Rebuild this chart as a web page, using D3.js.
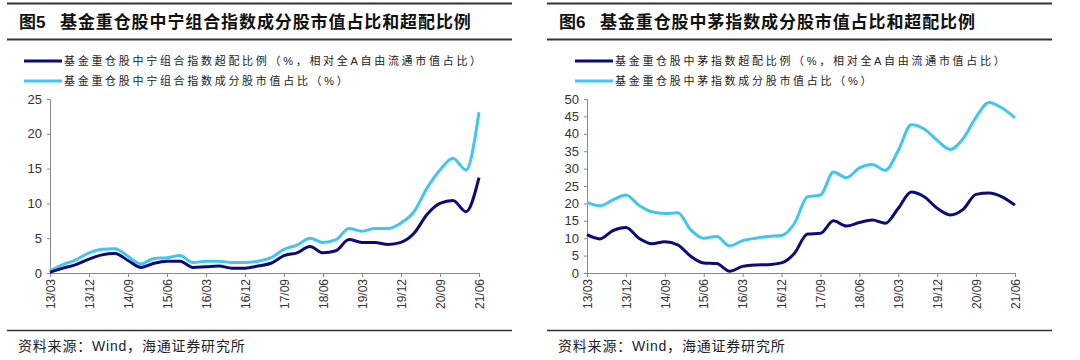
<!DOCTYPE html>
<html>
<head>
<meta charset="utf-8">
<script src="https://cdn.jsdelivr.net/npm/d3@7"></script>
<style>
  body { margin: 0; background: #fff; }
  svg { display: block; font-family: Arial, "Liberation Sans", "Noto Sans CJK SC", sans-serif; }
</style>
</head>
<body>
<div id="chart"></div>
<script>
// quarterly observation dates (months since 2013-03)
const months = d3.range(0, 100, 3);
const tickLabels = ["13/03", "13/12", "14/09", "15/06", "16/03", "16/12", "17/09", "18/06", "19/03", "19/12", "20/09", "21/06"];

// Fig 5: 中宁组合
const ningShare = [0.3, 1.2, 1.9, 2.9, 3.4, 3.5, 2.4, 1.3, 2.1, 2.2, 2.5, 1.5, 1.7, 1.7, 1.5, 1.5, 1.7,
  2.2, 3.4, 4.0, 5.0, 4.4, 4.8, 6.4, 6.0, 6.4, 6.4, 7.2, 8.8, 12.2, 14.8, 16.5, 14.8, 23.1];
const ningOver = [0.1, 0.7, 1.2, 2.0, 2.6, 2.8, 1.8, 0.8, 1.4, 1.7, 1.7, 0.8, 0.9, 1.0, 0.7, 0.7, 1.0,
  1.4, 2.5, 2.9, 3.8, 2.9, 3.2, 4.8, 4.4, 4.4, 4.1, 4.4, 5.7, 8.4, 10.0, 10.4, 8.8, 13.7];

// Fig 6: 中茅
const maoShare = [20.3, 19.3, 21.0, 22.4, 19.5, 17.6, 17.1, 17.3, 12.4, 10.0, 10.5, 7.8, 9.3, 10.0, 10.5, 10.8, 14.3,
  21.9, 22.4, 29.0, 27.4, 30.2, 31.2, 29.5, 35.2, 42.6, 41.4, 38.1, 35.5, 38.6, 44.8, 49.0, 47.4, 44.6];
const maoOver = [11.0, 9.8, 12.2, 13.1, 10.0, 8.4, 9.0, 8.1, 4.8, 2.9, 2.7, 0.5, 1.9, 2.3, 2.4, 2.9, 5.7,
  11.2, 11.4, 15.0, 13.5, 14.5, 15.2, 14.3, 18.6, 23.3, 21.9, 18.6, 16.7, 18.3, 22.6, 23.0, 21.9, 19.5];

const darkBlue = "#0c0c78";
const lightBlue = "#41c6ef";

const svg = d3.select("#chart").append("svg")
    .attr("width", 1080)
    .attr("height", 360);

function drawPanel(cfg) {
    const g = svg.append("g").attr("transform", `translate(${cfg.left},0)`);
    const w = 505;

    // header rules + title
    g.append("line").attr("x1", 0).attr("x2", w).attr("y1", 3.5).attr("y2", 3.5)
        .attr("stroke", "#333").attr("stroke-width", 2);
    g.append("line").attr("x1", 0).attr("x2", w).attr("y1", 39.5).attr("y2", 39.5)
        .attr("stroke", "#333").attr("stroke-width", 2);
    const title = g.append("text")
        .attr("y", 28)
        .style("font-size", "17px").style("font-weight", "bold")
        .attr("fill", "#111");
    title.append("tspan").attr("x", 12).text(cfg.figNo);
    title.append("tspan").attr("x", 53).style("letter-spacing", "0.9px").text(cfg.title);

    // legend
    const legend = [
        { label: cfg.overLabel, color: darkBlue, y: 61 },
        { label: cfg.shareLabel, color: lightBlue, y: 81 }
    ];
    legend.forEach(d => {
        g.append("line").attr("x1", cfg.legendX).attr("x2", cfg.legendX + 38)
            .attr("y1", d.y).attr("y2", d.y)
            .attr("stroke", d.color).attr("stroke-width", 3);
        g.append("text")
            .attr("x", cfg.legendX + 40).attr("y", d.y + 4)
            .style("font-size", "11px").style("letter-spacing", "2.7px")
            .attr("fill", "#222")
            .text(d.label);
    });

    // scales
    const x = d3.scaleLinear().domain([0, 99]).range([cfg.plotLeft, cfg.plotRight]);
    const y = d3.scaleLinear().domain([0, cfg.yMax]).range([273, 99]);

    const yAxis = g.append("g")
        .attr("transform", `translate(${cfg.plotLeft},0)`)
        .call(d3.axisLeft(y).tickValues(cfg.yTicks).tickSize(3).tickPadding(5));
    yAxis.select(".domain").attr("stroke", "#888");
    yAxis.selectAll(".tick line").attr("stroke", "#888");
    yAxis.selectAll("text").style("font-size", "13px").attr("fill", "#333")
        .style("font-family", "Arial, 'Liberation Sans', sans-serif");

    const xAxis = g.append("g")
        .attr("transform", "translate(0,273)")
        .call(d3.axisBottom(x).tickValues(d3.range(0, 100, 9)).tickSize(4)
            .tickFormat((d, i) => tickLabels[i]));
    xAxis.select(".domain").attr("stroke", "#888");
    xAxis.selectAll(".tick line").attr("stroke", "#888");
    xAxis.selectAll("text")
        .style("font-size", "12px").attr("fill", "#333")
        .style("font-family", "Arial, 'Liberation Sans', sans-serif")
        .attr("transform", "rotate(-90)")
        .attr("text-anchor", "end")
        .attr("x", -6).attr("y", 0).attr("dy", "0.35em");

    const line = d3.line()
        .x((d, i) => x(months[i]))
        .y(d => y(d))
        .curve(d3.curveMonotoneX);

    g.append("path").datum(cfg.share)
        .attr("d", line).attr("fill", "none")
        .attr("stroke", lightBlue).attr("stroke-width", 3).attr("stroke-linejoin", "round");
    g.append("path").datum(cfg.over)
        .attr("d", line).attr("fill", "none")
        .attr("stroke", darkBlue).attr("stroke-width", 3).attr("stroke-linejoin", "round");

    // footer
    g.append("line").attr("x1", 0).attr("x2", w).attr("y1", 330.5).attr("y2", 330.5)
        .attr("stroke", "#333").attr("stroke-width", 1.5);
    g.append("text")
        .attr("x", 11).attr("y", 351)
        .style("font-size", "14px").style("letter-spacing", "0.8px").attr("fill", "#222")
        .text("资料来源：Wind，海通证券研究所");
}

drawPanel({
    left: 7,
    figNo: "图5",
    title: "基金重仓股中宁组合指数成分股市值占比和超配比例",
    overLabel: "基金重仓股中宁组合指数超配比例（%，相对全A自由流通市值占比）",
    shareLabel: "基金重仓股中宁组合指数成分股市值占比（%）",
    legendX: 17,
    plotLeft: 43, plotRight: 472,
    yMax: 25, yTicks: [0, 5, 10, 15, 20, 25],
    share: ningShare, over: ningOver
});

drawPanel({
    left: 547,
    figNo: "图6",
    title: "基金重仓股中茅指数成分股市值占比和超配比例",
    overLabel: "基金重仓股中茅指数超配比例（%，相对全A自由流通市值占比）",
    shareLabel: "基金重仓股中茅指数成分股市值占比（%）",
    legendX: 28,
    plotLeft: 40, plotRight: 468,
    yMax: 50, yTicks: d3.range(0, 51, 5),
    share: maoShare, over: maoOver
});
</script>
</body>
</html>
